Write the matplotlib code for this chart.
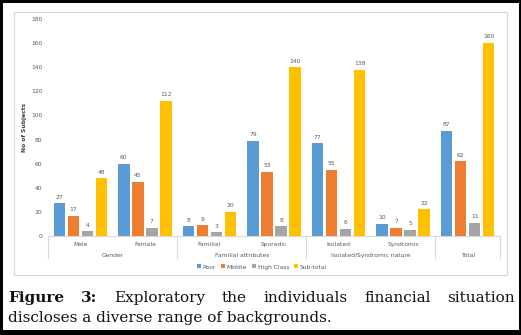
import numpy as np
import matplotlib
matplotlib.use("Agg")
import matplotlib.pyplot as plt
from matplotlib.patches import Rectangle

# data
categories = ["Male", "Female", "Familial", "Sporadic", "Isolated", "Syndromic", ""]
groups = ["Gender", "Familial attributes", "Isolated/Syndromic nature", "Total"]
group_centers = [0.5, 2.5, 4.5, 6.0]
group_edges = [-0.5, 1.5, 3.5, 5.5, 6.5]
series = ["Poor", "Middle", "High Class", "Sub-total"]
poor = [27, 60, 8, 79, 77, 10, 87]
middle = [17, 45, 9, 53, 55, 7, 62]
high = [4, 7, 3, 8, 6, 5, 11]
subtotal = [48, 112, 20, 140, 138, 22, 160]
colors = ["#5B9BD5", "#ED7D31", "#A5A5A5", "#FFC000"]

W, H = 521, 335
fig = plt.figure(figsize=(W / 100, H / 100), dpi=100)
fig.patch.set_facecolor("black")

def px(x0, y0, x1, y1):
    # pixel box (top-left origin) -> figure fraction rect
    return (x0 / W, 1 - y1 / H, (x1 - x0) / W, (y1 - y0) / H)

l, b, w, h = px(3, 3, 519, 330)
fig.patches.append(Rectangle((l, b), w, h, transform=fig.transFigure,
                             facecolor="white", edgecolor="none", zorder=0))
l, b, w, h = px(14, 12, 507, 275)
fig.patches.append(Rectangle((l, b), w, h, transform=fig.transFigure,
                             facecolor="white", edgecolor="#D9D9D9", lw=0.8, zorder=0.5))

ax = fig.add_axes(px(48, 19, 500, 236))
ax.set_zorder(2)
ax.set_facecolor("none")
x = np.arange(len(categories))
bw = 0.178
step = 0.217
for i, (vals, c) in enumerate(zip([poor, middle, high, subtotal], colors)):
    pos = x + (i - 1.5) * step
    bars = ax.bar(pos, vals, bw, color=c, label=series[i], zorder=3)
    for p, v in zip(pos, vals):
        ax.text(p, v + 3, str(v), ha="center", va="bottom", fontsize=4.3, color="#595959")

ax.set_xlim(-0.5, 6.5)
ax.set_ylim(0, 180)
ax.set_yticks(range(0, 181, 20))
ax.tick_params(axis="y", length=0, pad=4, labelsize=4.3, labelcolor="#595959")
ax.tick_params(axis="x", length=0)
ax.set_xticks([])
for s in ["top", "right", "left"]:
    ax.spines[s].set_visible(False)
ax.spines["bottom"].set_color("#D9D9D9")
ax.spines["bottom"].set_linewidth(0.8)
ax.set_ylabel("No of Subjects", fontsize=4.3, color="#404040", fontweight="bold", labelpad=3)

trans = ax.get_xaxis_transform()
for xi, name in zip(x, categories):
    ax.text(xi, -0.037, name, transform=trans, ha="center", va="center",
            fontsize=4.3, color="#595959")
for gc, name in zip(group_centers, groups):
    ax.text(gc, -0.088, name, transform=trans, ha="center", va="center",
            fontsize=4.3, color="#595959")
for ge in group_edges:
    ax.plot([ge, ge], [0, -0.101], transform=trans, color="#D9D9D9", lw=0.8, clip_on=False)

leg = fig.legend(loc="center", bbox_to_anchor=(262 / W, 1 - 267 / H), ncol=4, frameon=False,
                 fontsize=4.3, handlelength=0.6, handleheight=0.6, handletextpad=0.3,
                 columnspacing=0.9, labelcolor="#595959")
leg.set_zorder(3)

# caption, first line justified
words = [("Figure", "bold"), ("3:", "bold"), ("Exploratory", "normal"), ("the", "normal"),
         ("individuals", "normal"), ("financial", "normal"), ("situation", "normal")]
cap_font = "DejaVu Serif"
cap_size = 11
texts = [fig.text(0, 1 - 302 / H, wd, fontsize=cap_size, fontweight=wt, family=cap_font,
                  va="baseline", color="#111111", zorder=3)
         for wd, wt in words]
renderer = fig.canvas.get_renderer()
widths = [t.get_window_extent(renderer).width for t in texts]
left, right = 8, 515
gap = (right - left - sum(widths)) / (len(words) - 1)
cur = left
for t, wd in zip(texts, widths):
    t.set_x(cur / W)
    cur += wd + gap
fig.text(8 / W, 1 - 322 / H, "discloses a diverse range of backgrounds.", fontsize=cap_size,
         family=cap_font, va="baseline", color="#111111", zorder=3)

fig.savefig("out.png", dpi=100, facecolor=fig.get_facecolor())
